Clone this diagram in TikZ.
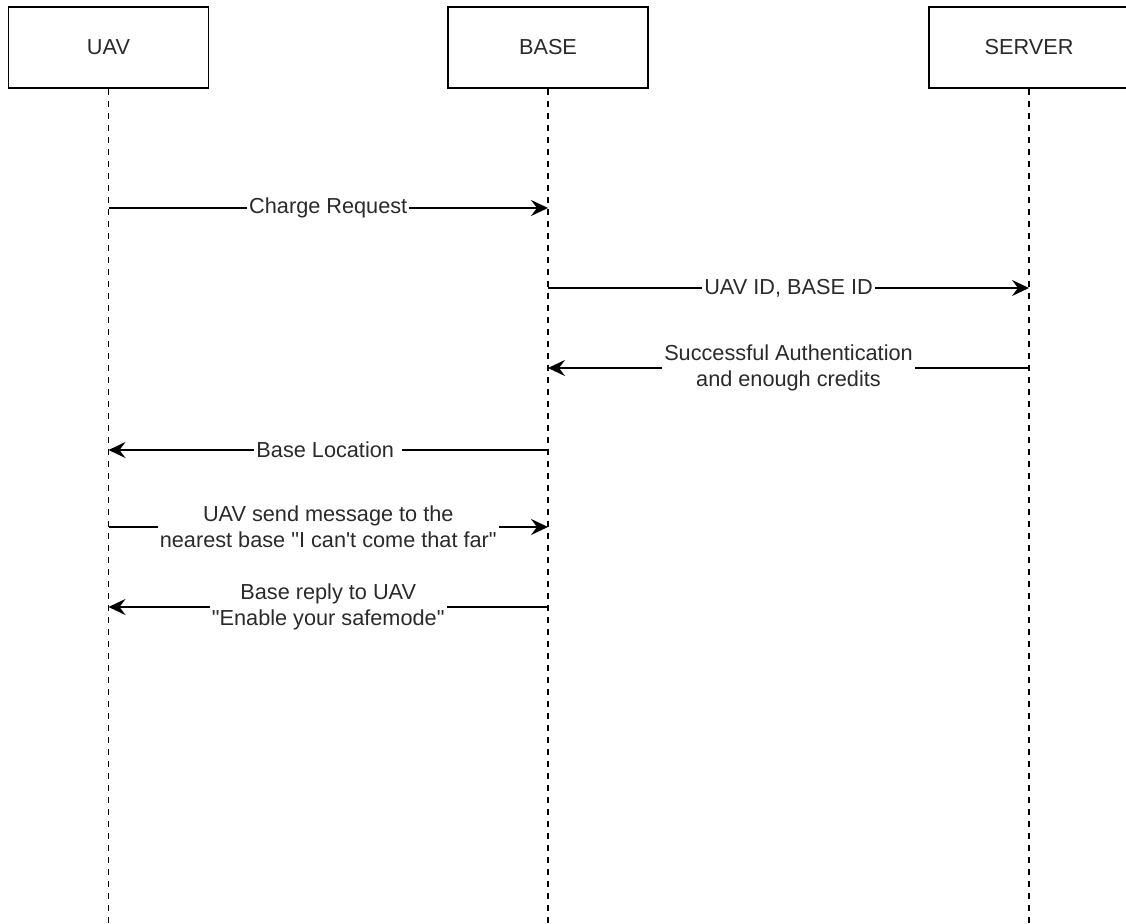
\documentclass[tikz,border=0pt]{standalone}
\usepackage{fontspec}
\setmainfont{Liberation Sans}[Ligatures=TeXOff]
\usetikzlibrary{arrows.meta}
\definecolor{seqline}{HTML}{000000}
\definecolor{seqtext}{HTML}{2a2a2a}

\begin{document}
\begin{tikzpicture}[x=0.5pt, y=-0.5pt, font=\fontsize{10.85}{13}\selectfont,
    actor/.style={draw=seqline, line width=0.9pt, fill=white,
      minimum width=100pt, minimum height=40.5pt, text=seqtext},
    lifeline/.style={seqline, line width=0.9pt, dash pattern=on 3pt off 3pt},
    msg/.style={-{Stealth[length=8.5pt, width=8pt, inset=3pt]}, seqline, line width=1.1pt},
    lbl/.style={fill=white, text=seqtext, inner xsep=1pt, inner ysep=0pt, align=center}]
    \useasboundingbox (0,0) rectangle (1126,924);
    %% --- Actors ---
    \node[actor] (uav) at (108.5,47.5) {UAV};
    \node[actor] (base) at (548,47.5) {BASE};
    \node[actor] (server) at (1029,47.5) {SERVER};
    %% --- Lifelines ---
    \foreach \a in {uav,base,server} {
      \coordinate (\a-end) at (\a |- 0,924);
      \draw[lifeline] (\a.south) -- (\a-end);
    }
    %% message levels
    \foreach \n/\y in {1/208, 2/288, 3/368, 4/450, 5/527, 6/607}
      \coordinate (m\n) at (0,\y);
    %% --- Messages ---
    \draw[msg] (uav |- m1) -- node[lbl] {Charge Request} (base |- m1);
    \draw[msg] (base |- m2) -- node[lbl] {UAV ID, BASE ID} (server |- m2);
    \draw[msg] (server |- m3) -- node[lbl]
      {Successful Authentication\ \\and enough credits} (base |- m3);
    \draw[msg] (base |- m4) -- node[lbl] {Base Location\ } (uav |- m4);
    \draw[msg] (uav |- m5) -- node[lbl]
      {UAV send message to the\\nearest base "I can't come that far"} (base |- m5);
    \draw[msg] (base |- m6) -- node[lbl]
      {Base reply to UAV\\"Enable your safemode"} (uav |- m6);
  \end{tikzpicture}
\end{document}
